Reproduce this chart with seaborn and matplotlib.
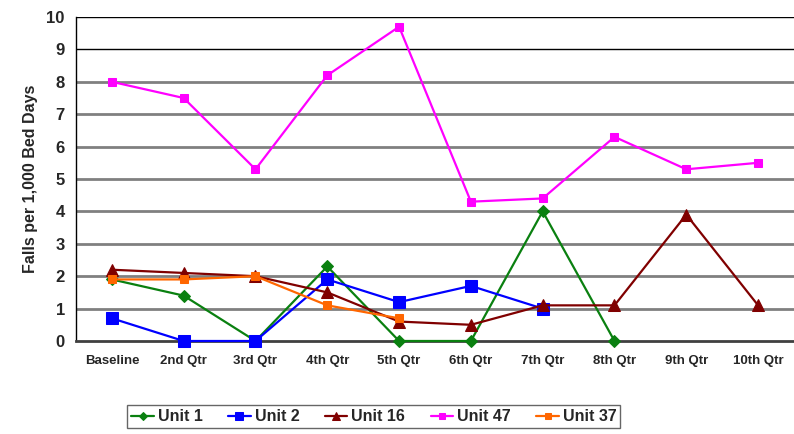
import numpy as np
import pandas as pd
import matplotlib
matplotlib.use("Agg")
import matplotlib.pyplot as plt
import seaborn as sns

quarters = ["Baseline", "2nd Qtr", "3rd Qtr", "4th Qtr", "5th Qtr",
            "6th Qtr", "7th Qtr", "8th Qtr", "9th Qtr", "10th Qtr"]
nan = np.nan
unit_1 = [1.9, 1.4, 0.0, 2.3, 0.0, 0.0, 4.0, 0.0, nan, nan]
unit_2 = [0.7, 0.0, 0.0, 1.9, 1.2, 1.7, 1.0, nan, nan, nan]
unit_16 = [2.2, 2.1, 2.0, 1.5, 0.6, 0.5, 1.1, 1.1, 3.9, 1.1]
unit_47 = [8.0, 7.5, 5.3, 8.2, 9.7, 4.3, 4.4, 6.3, 5.3, 5.5]
unit_37 = [1.9, 1.9, 2.0, 1.1, 0.7, nan, nan, nan, nan, nan]

series = {"Unit 1": unit_1, "Unit 2": unit_2, "Unit 16": unit_16,
          "Unit 47": unit_47, "Unit 37": unit_37}

rows = []
for name, vals in series.items():
    for i, v in enumerate(vals):
        rows.append({"Unit": name, "pos": i, "value": v})
df = pd.DataFrame(rows).dropna()

styles = {
    "Unit 1": dict(color="#0a8010", marker="D", ms=6),
    "Unit 2": dict(color="#0000ff", marker="s", ms=8),
    "Unit 16": dict(color="#800000", marker="^", ms=8),
    "Unit 47": dict(color="#ff00ff", marker="s", ms=6),
    "Unit 37": dict(color="#ff6600", marker="s", ms=6),
}

sns.set_style("white")
plt.rcParams["font.family"] = ["Liberation Sans", "DejaVu Sans"]
plt.rcParams["font.weight"] = "bold"

fig = plt.figure(figsize=(7.94, 4.34), dpi=100)
ax = fig.add_axes([0.0957, 0.2143, 0.9043, 0.7465])

# horizontal grid: upper two lines thin black, the rest thicker gray
for yv in range(1, 11):
    if yv >= 9:
        ax.axhline(yv, color="black", lw=1.0, zorder=0)
    else:
        ax.axhline(yv, color="#808080", lw=2.0, zorder=0)

for name in series:
    st = styles[name]
    sub = df[df["Unit"] == name]
    sns.lineplot(data=sub, x="pos", y="value", ax=ax, color=st["color"],
                 marker=st["marker"], markersize=st["ms"],
                 markeredgecolor=st["color"], linewidth=1.6,
                 label=name, zorder=3, clip_on=False)

ax.set_xlim(-0.5, 9.5)
ax.set_ylim(0, 10)
ax.set_yticks(range(0, 11))
ax.set_yticklabels([str(i) for i in range(0, 11)], fontsize=12, fontweight="bold")
ax.set_xticks(range(len(quarters)))
ax.set_xticklabels(quarters, fontsize=9.5, fontweight="bold")
ax.set_xticks(np.arange(0.5, 9.5, 1.0), minor=True)
ax.tick_params(axis="x", which="major", length=0, pad=10)
ax.tick_params(axis="x", which="minor", length=5, width=1.2, color="#404040", direction="out")
ax.tick_params(axis="y", length=5, width=1.5, color="#808080", direction="out", pad=3)
ax.set_xlabel("")
ax.set_ylabel("Falls per 1,000 Bed Days", fontsize=11.5, fontweight="bold", labelpad=6)

for s in ["top", "right"]:
    ax.spines[s].set_visible(False)
ax.spines["left"].set_color("black")
ax.spines["left"].set_linewidth(1.0)
ax.spines["bottom"].set_color("#404040")
ax.spines["bottom"].set_linewidth(2.0)

handles, labels = ax.get_legend_handles_labels()
if ax.legend_:
    ax.legend_.remove()
leg = fig.legend(handles, labels, loc="center", bbox_to_anchor=(0.471, 0.04),
                 ncol=5, frameon=True, fancybox=False, edgecolor="#404040",
                 prop={"weight": "bold", "size": 11.5},
                 handlelength=1.4, handletextpad=0.25, columnspacing=1.6,
                 borderpad=0.25, markerscale=0.75)
leg.get_frame().set_linewidth(1.0)

fig.savefig("out.png", dpi=100)
